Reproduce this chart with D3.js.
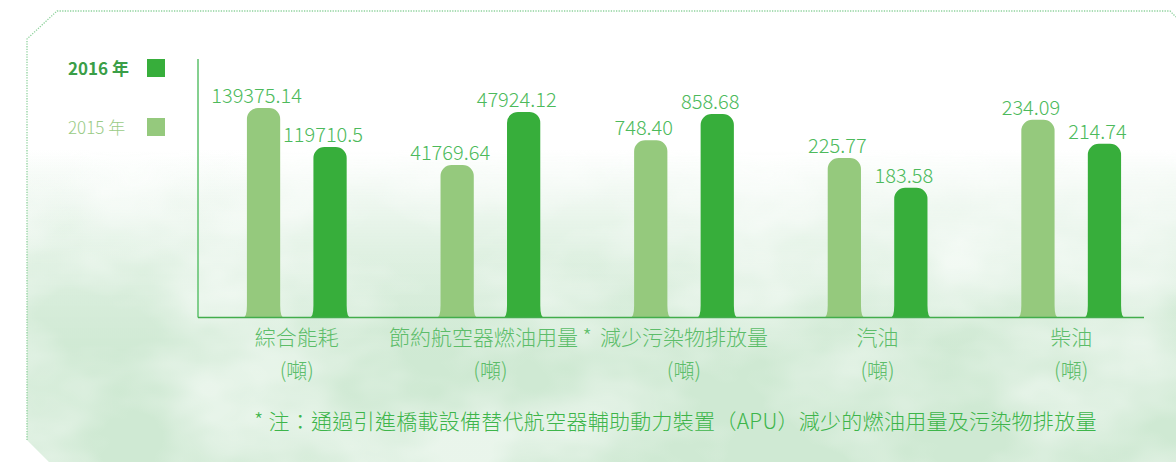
<!DOCTYPE html>
<html>
<head>
<meta charset="utf-8">
<script src="https://cdn.jsdelivr.net/npm/d3@7"></script>
<style>
  body { margin: 0; background: #fff; }
  svg { display: block; font-family: "Noto Sans CJK TC", "Noto Sans", sans-serif; }
</style>
</head>
<body>
<svg id="chart"></svg>
<script>
// Canvas
const width = 1176, height = 462;

// Data
const categories = ["綜合能耗", "節約航空器燃油用量 *", "減少污染物排放量", "汽油", "柴油"];
const unitLabel = "(噸)";
const years = ["2015 年", "2016 年"];
const values2015 = [139375.14, 41769.64, 748.40, 225.77, 234.09];
const values2016 = [119710.5, 47924.12, 858.68, 183.58, 214.74];
const labels2015 = ["139375.14", "41769.64", "748.40", "225.77", "234.09"];
const labels2016 = ["119710.5", "47924.12", "858.68", "183.58", "214.74"];
// each group has its own value axis in the original
const groupDomains = [[34000, 143400], [24100, 49300], [0, 918], [0, 308], [75, 250]];
const footnote = "* 注：通過引進橋載設備替代航空器輔助動力裝置（APU）減少的燃油用量及污染物排放量";

// Colours
const color = d3.scaleOrdinal()
    .domain(years)
    .range(["#95c97d", "#37ae3b"]);

// Plot area
const plotLeft = 198, plotRight = 1144, plotTop = 100, baseY = 317.5;

const svg = d3.select("#chart")
    .attr("width", width)
    .attr("height", height);

const defs = svg.append("defs");

// panel outline with cut corners
const panel = [[27, 39], [57, 11], [1170, 11], [1176, 17], [1176, 462], [49, 462], [27, 440]];
defs.append("clipPath").attr("id", "panelClip")
    .append("polygon")
    .attr("points", panel.map(p => p.join(",")).join(" "));

// watercolor wash: vertical fade + noise
const fade = defs.append("linearGradient")
    .attr("id", "fade")
    .attr("gradientUnits", "userSpaceOnUse")
    .attr("x1", 0).attr("y1", 150).attr("x2", 0).attr("y2", 360);
fade.append("stop").attr("offset", 0).attr("stop-color", "#cfe9d3").attr("stop-opacity", 0);
fade.append("stop").attr("offset", 0.5).attr("stop-color", "#cfe9d3").attr("stop-opacity", 0.55);
fade.append("stop").attr("offset", 1).attr("stop-color", "#cfe9d3").attr("stop-opacity", 1);

const filt = defs.append("filter").attr("id", "wash")
    .attr("x", 0).attr("y", 0).attr("width", "100%").attr("height", "100%");
filt.append("feTurbulence")
    .attr("type", "fractalNoise")
    .attr("baseFrequency", "0.006 0.01")
    .attr("numOctaves", 4)
    .attr("seed", 7)
    .attr("result", "noise");
filt.append("feColorMatrix")
    .attr("in", "noise")
    .attr("type", "matrix")
    .attr("values", "0 0 0 0 1  0 0 0 0 1  0 0 0 0 1  0 0 0 2.2 -0.45")
    .attr("result", "alpha");
filt.append("feComposite")
    .attr("in", "SourceGraphic")
    .attr("in2", "alpha")
    .attr("operator", "in");

const bg = svg.append("g").attr("clip-path", "url(#panelClip)");
bg.append("rect")
    .attr("width", width).attr("height", height)
    .attr("fill", "#ffffff");
bg.append("rect")
    .attr("width", width).attr("height", height)
    .attr("fill", "url(#fade)")
    .attr("filter", "url(#wash)");
bg.append("rect")
    .attr("width", width).attr("height", height)
    .attr("fill", "url(#fade)")
    .attr("opacity", 0.45);

// dotted frame
svg.append("polyline")
    .attr("points", [[27, 440], [27, 39], [57, 11], [1170, 11], [1176, 17]].map(p => p.join(",")).join(" "))
    .attr("fill", "none")
    .attr("stroke", "#8fd29d")
    .attr("stroke-width", 1.3)
    .attr("stroke-dasharray", "1.3,1.3");

// Scales
const x0 = d3.scaleBand()
    .domain(categories)
    .range([200, 1168]);

const bw = x0.bandwidth();
const x1 = d3.scaleBand()
    .domain(years)
    .range([bw / 2 - 66.5, bw / 2 + 66.5])
    .paddingInner(0.5)
    .paddingOuter(0.25);

const yScales = groupDomains.map(dom => d3.scaleLinear()
    .domain(dom)
    .range([baseY, plotTop]));

// bar with rounded top and flared foot
function barPath(x, w, yt, yb) {
    const r = 11, f = 4, fh = 12;
    const xr = x + w;
    return `M${x - f},${yb} Q${x},${yb} ${x},${yb - fh} L${x},${yt + r} ` +
        `A${r},${r} 0 0 1 ${x + r},${yt} L${xr - r},${yt} A${r},${r} 0 0 1 ${xr},${yt + r} ` +
        `L${xr},${yb - fh} Q${xr},${yb} ${xr + f},${yb} Z`;
}

const rows = categories.map((c, i) => ({
    cat: c,
    y: yScales[i],
    bars: [
        { year: years[0], value: values2015[i], label: labels2015[i] },
        { year: years[1], value: values2016[i], label: labels2016[i] }
    ]
}));

const groups = svg.append("g")
    .selectAll("g.group")
    .data(rows)
    .enter()
    .append("g")
    .attr("class", "group")
    .attr("transform", d => `translate(${x0(d.cat)},0)`);

groups.selectAll("path")
    .data(d => d.bars.map(b => ({ ...b, y: d.y })))
    .enter()
    .append("path")
    .attr("d", d => barPath(x1(d.year), x1.bandwidth(), d.y(d.value), baseY))
    .attr("fill", d => color(d.year));

groups.selectAll("text.value")
    .data(d => d.bars.map(b => ({ ...b, y: d.y })))
    .enter()
    .append("text")
    .attr("class", "value")
    .attr("x", d => x1(d.year) + x1.bandwidth() / 2 - 7)
    .attr("y", d => d.y(d.value) - 5)
    .attr("text-anchor", "middle")
    .style("font-size", "20px")
    .style("font-weight", 300)
    .style("fill", "#4cba5b")
    .text(d => d.label);

// category labels
groups.append("text")
    .attr("x", bw / 2)
    .attr("y", 345)
    .attr("text-anchor", "middle")
    .style("font-size", "21px")
    .style("font-weight", 300)
    .style("fill", "#5cbd69")
    .text(d => d.cat);
groups.append("text")
    .attr("x", bw / 2)
    .attr("y", 378)
    .attr("text-anchor", "middle")
    .style("font-size", "21px")
    .style("font-weight", 300)
    .style("fill", "#5cbd69")
    .text(unitLabel);

// axis lines
svg.append("line")
    .attr("x1", plotLeft).attr("x2", plotLeft)
    .attr("y1", 59).attr("y2", baseY)
    .attr("stroke", "#5dc06b").attr("stroke-width", 1.5);
svg.append("line")
    .attr("x1", plotLeft).attr("x2", plotRight)
    .attr("y1", baseY).attr("y2", baseY)
    .attr("stroke", "#42ad4b").attr("stroke-width", 1.5);

// legend (2016 on top)
const legendYears = [years[1], years[0]];
const legend = svg.append("g")
    .attr("transform", "translate(68,59)");
const legendItems = legend.selectAll(".legend-item")
    .data(legendYears)
    .enter()
    .append("g")
    .attr("class", "legend-item")
    .attr("transform", (d, i) => `translate(0, ${i * 59})`);
legendItems.append("text")
    .attr("x", 0)
    .attr("y", 16)
    .style("font-size", "17px")
    .style("font-weight", (d, i) => i === 0 ? 600 : 300)
    .style("fill", (d, i) => i === 0 ? "#3a9e47" : "#9acb86")
    .text(d => d);
legendItems.append("rect")
    .attr("x", 79)
    .attr("y", 0)
    .attr("width", 18)
    .attr("height", 18)
    .style("fill", d => color(d));

// footnote
svg.append("text")
    .attr("x", 254)
    .attr("y", 429)
    .style("font-size", "21px")
    .style("font-weight", 300)
    .style("letter-spacing", "0.28px")
    .style("fill", "#3db54a")
    .text(footnote);
</script>
</body>
</html>
